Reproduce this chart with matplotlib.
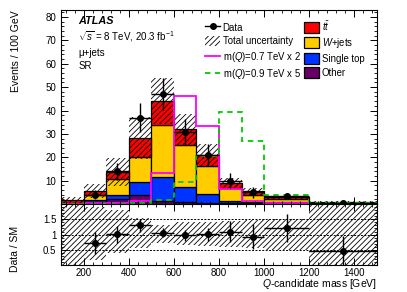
import numpy as np
import matplotlib
matplotlib.use("Agg")
import matplotlib.pyplot as plt
from matplotlib.patches import Patch
from matplotlib.lines import Line2D
from matplotlib.ticker import MultipleLocator, FixedLocator

plt.rcParams['font.family'] = ['Liberation Sans', 'DejaVu Sans']
plt.rcParams['mathtext.fontset'] = 'custom'
plt.rcParams['mathtext.rm'] = 'Liberation Sans'
plt.rcParams['mathtext.it'] = 'Liberation Sans:italic'
plt.rcParams['hatch.linewidth'] = 0.6

# bin edges in GeV
edges = np.array([100, 200, 300, 400, 500, 600, 700, 800, 900, 1000, 1200, 1500])

# background stack, events / 100 GeV (bottom to top)
other = [0.2, 1.0, 2.2, 3.7, 1.3, 0.9, 0.6, 0.5, 0.5, 0.4, 0.1]
single_top = [0.1, 0.9, 1.5, 5.8, 10.2, 6.3, 3.6, 0.9, 0.6, 0.4, 0.1]
wjets = [0.3, 1.8, 6.9, 10.8, 22.5, 18.2, 12.0, 5.4, 2.9, 1.5, 0.3]
ttbar = [1.1, 1.9, 3.3, 8.0, 10.1, 6.5, 4.6, 2.3, 1.4, 0.6, 0.2]

# total uncertainty on the background (main panel)
unc = [1.3, 3.0, 6.0, 9.0, 10.0, 6.5, 5.0, 2.2, 1.3, 0.6, 0.8]
# uncertainty band in the ratio panel
ratio_lo = [0.0, 0.15, 0.4, 0.55, 0.72, 0.65, 0.62, 0.58, 0.55, 0.5, 0.0]
ratio_hi = [2.0, 1.9, 1.8, 1.55, 1.32, 1.4, 1.42, 1.45, 1.48, 1.52, 2.0]

# signal templates (scaled)
sig07 = [0.2, 0.3, 0.3, 1.2, 13.5, 46.3, 33.5, 6.5, 1.4, 0.3, 0.2]
sig09 = [0.2, 0.2, 0.2, 0.3, 1.9, 9.4, 20.6, 39.3, 27.0, 3.7, 0.4]

# data, events / 100 GeV (first bin empty)
data = [np.nan, 4, 14, 37, 47, 31, 21, 10, 5, 3.5, 0.33]

widths = np.diff(edges)
centers = edges[:-1] + widths / 2
scale = widths / 100.0
data = np.array(data, dtype=float)
data_err = np.sqrt(data * scale) / scale

fig = plt.figure(figsize=(4.07, 2.92), dpi=100)
ax = fig.add_axes([0.150, 0.301, 0.776, 0.665])
rax = fig.add_axes([0.150, 0.0925, 0.776, 0.2085])

colors = ['#660066', '#0033ff', '#ffcc00', '#ff0000']
bottom = np.zeros(len(widths))
for vals, col in zip([other, single_top, wjets, ttbar], colors):
    ax.bar(edges[:-1], vals, width=widths, bottom=bottom, align='edge',
           color=col, edgecolor='black', linewidth=0.9)
    bottom = bottom + np.array(vals)
total = bottom

unc = np.array(unc)
ax.bar(edges[:-1], 2 * unc, width=widths, bottom=total - unc, align='edge',
       fill=False, hatch='//////', edgecolor='black', linewidth=0)

ax.stairs(sig07, edges, color='#ff00ff', linewidth=1.3, baseline=None)
ax.stairs(sig09, edges, color='#00cc00', linewidth=1.3, linestyle=(0, (3, 2.5)),
          baseline=None)

ax.errorbar(centers, data, yerr=data_err, xerr=widths / 2, fmt='o', color='black',
            markersize=4, linewidth=1, capsize=0)

ax.set_xlim(100, 1500)
ax.set_ylim(0, 83)
ax.yaxis.set_major_locator(FixedLocator([10, 20, 30, 40, 50, 60, 70, 80]))
ax.yaxis.set_minor_locator(MultipleLocator(2))
ax.xaxis.set_major_locator(MultipleLocator(200))
ax.xaxis.set_minor_locator(MultipleLocator(40))
ax.tick_params(labelbottom=False)
ax.set_ylabel('Events / 100 GeV', fontsize=7.5, loc='top')
ax.yaxis.set_label_coords(-0.127, 1.0)

for a in (ax, rax):
    a.tick_params(which='both', direction='in', top=True, right=True, labelsize=7)
    a.tick_params(which='major', length=5, width=0.7)
    a.tick_params(which='minor', length=2.5, width=0.6)
    for s in a.spines.values():
        s.set_linewidth(0.8)
rax.tick_params(axis='x', pad=2)

ax.text(0.055, 0.925, 'ATLAS', transform=ax.transAxes, fontsize=7.8,
        fontweight='bold', style='italic')
ax.text(0.055, 0.84, r'$\sqrt{s}$ = 8 TeV, 20.3 fb$^{-1}$', transform=ax.transAxes,
        fontsize=7)
ax.text(0.055, 0.765, 'μ+jets', transform=ax.transAxes, fontsize=7)
ax.text(0.055, 0.695, 'SR', transform=ax.transAxes, fontsize=7)

handles = [
    Line2D([0], [0], color='black', marker='o', markersize=4, linewidth=1),
    Patch(facecolor='white', edgecolor='black', hatch='//////', linewidth=0),
    Line2D([0], [0], color='#ff00ff', linewidth=1.3),
    Line2D([0], [0], color='#00cc00', linewidth=1.3, linestyle=(0, (3, 2.5))),
    Patch(facecolor='#ff0000', edgecolor='black', linewidth=0.9),
    Patch(facecolor='#ffcc00', edgecolor='black', linewidth=0.9),
    Patch(facecolor='#0033ff', edgecolor='black', linewidth=0.9),
    Patch(facecolor='#660066', edgecolor='black', linewidth=0.9),
]
labels = ['Data', 'Total uncertainty', r'm($Q$)=0.7 TeV x 2', r'm($Q$)=0.9 TeV x 5',
          r'$t\bar{t}$', r'$W$+jets', 'Single top', 'Other']
ax.legend(handles, labels, ncol=2, loc='upper left', bbox_to_anchor=(0.445, 0.975),
          frameon=False, fontsize=6.9, handlelength=1.5, handleheight=1.3,
          handletextpad=0.3, columnspacing=0.35, labelspacing=0.35, borderaxespad=0)

# ratio panel
ratio = data / total
ratio_err = data_err / total
rax.bar(edges[:-1], np.array(ratio_hi) - np.array(ratio_lo), width=widths,
        bottom=ratio_lo, align='edge', fill=False, hatch='//////',
        edgecolor='black', linewidth=0)
for yv in (0.5, 1.0, 1.5):
    rax.axhline(yv, color='black', linestyle=(0, (2, 1.5)), linewidth=0.7)
rax.errorbar(centers, ratio, yerr=ratio_err, xerr=widths / 2, fmt='o', color='black',
             markersize=4, linewidth=1, capsize=0)
rax.set_xlim(100, 1500)
rax.set_ylim(0, 2.0)
rax.yaxis.set_major_locator(FixedLocator([0.5, 1.0, 1.5]))
rax.yaxis.set_major_formatter(plt.FixedFormatter(['0.5', '1', '1.5']))
rax.yaxis.set_minor_locator(MultipleLocator(0.1))
rax.xaxis.set_major_locator(MultipleLocator(200))
rax.xaxis.set_minor_locator(MultipleLocator(40))
fig.text(0.926, 0.005, r'$Q$-candidate mass [GeV]', fontsize=7.5, ha='right',
         va='bottom')
fig.text(0.037, 0.147, 'Data / SM', rotation=90, fontsize=7.5, ha='center', va='center')

fig.savefig('out.png', dpi=100)
